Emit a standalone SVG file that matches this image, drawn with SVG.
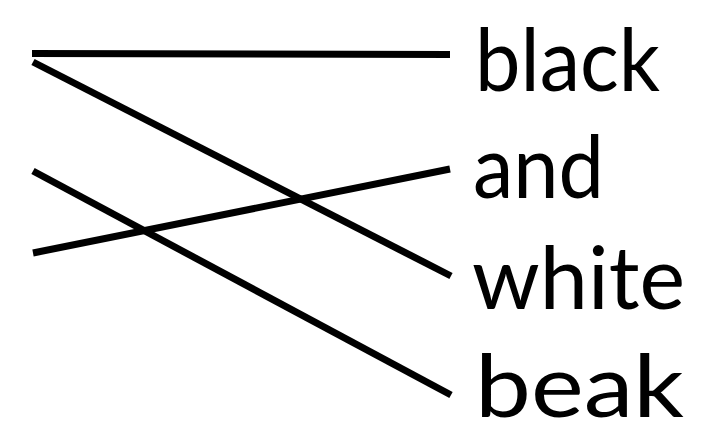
<svg xmlns="http://www.w3.org/2000/svg" width="706" height="421" viewBox="0 0 706 421">
<style>
.w{font-family:Lato,"Open Sans","Liberation Sans",sans-serif;font-size:88px;fill:#000}
.c line{stroke:#000;stroke-width:7;stroke-linecap:butt}
</style>
<rect width="706" height="421" fill="#fff"/>
<g class="c" id="connectors">
<line x1="32" y1="53.5" x2="450" y2="54.5"/>
<line x1="33" y1="62" x2="451" y2="276"/>
<line x1="33" y1="171" x2="451" y2="395"/>
<line x1="33" y1="253" x2="450" y2="169"/>
</g>
<g id="black"><text class="w" x="475" y="91" textLength="185" lengthAdjust="spacingAndGlyphs">black</text></g>
<g id="and"><text class="w" x="473" y="198" textLength="131" lengthAdjust="spacingAndGlyphs">and</text></g>
<g id="white"><text class="w" x="472" y="309" textLength="213" lengthAdjust="spacingAndGlyphs">white</text></g>
<g id="beak"><text class="w" x="475" y="417" textLength="209" lengthAdjust="spacingAndGlyphs">beak</text></g>
</svg>
